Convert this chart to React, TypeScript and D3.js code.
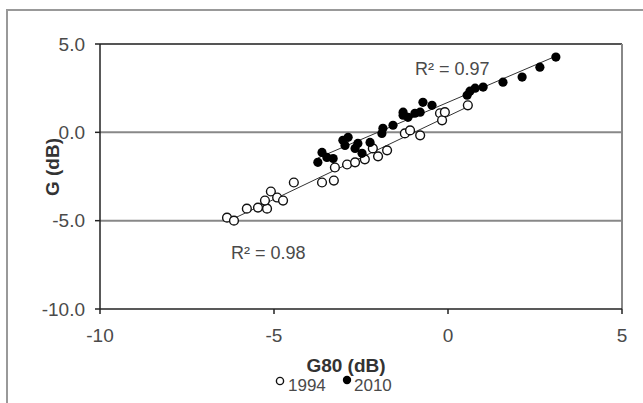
import React from "react";
import * as d3 from "d3";

const xTicks = [-10, -5, 0, 5];
const yTicks = [5, 0, -5, -10];
const yGrid = [0, -5];

const x1994 = [-6.35, -6.15, -5.78, -5.46, -5.2, -5.26, -5.09, -4.91, -4.74, -4.43, -3.62, -3.28, -3.25, -2.9, -2.67, -2.39, -2.16, -2.01, -1.75, -1.24, -1.09, -0.8, -0.23, -0.17, -0.09, 0.57];
const y1994 = [-4.83, -5.0, -4.32, -4.26, -4.32, -3.86, -3.35, -3.69, -3.86, -2.84, -2.84, -2.73, -1.99, -1.82, -1.7, -1.53, -0.91, -1.36, -1.02, -0.06, 0.11, -0.17, 1.08, 0.68, 1.14, 1.53];

const x2010 = [-3.74, -3.62, -3.48, -3.3, -3.02, -2.87, -2.96, -2.67, -2.59, -2.47, -2.24, -1.9, -1.87, -1.58, -1.29, -1.29, -1.15, -0.95, -0.8, -0.72, -0.46, 0.55, 0.63, 0.78, 1.01, 1.58, 2.13, 2.64, 3.1];
const y2010 = [-1.7, -1.14, -1.42, -1.48, -0.45, -0.28, -0.74, -0.91, -0.63, -1.19, -0.57, -0.06, 0.23, 0.4, 0.97, 1.14, 0.85, 1.08, 1.14, 1.7, 1.53, 2.1, 2.33, 2.5, 2.56, 2.84, 3.13, 3.69, 4.26];

const seriesNames = ["1994", "2010"];
const r2Labels = ["R² = 0.98", "R² = 0.97"];

function fit(xs: number[], ys: number[]) {
  const mx = d3.mean(xs)!;
  const my = d3.mean(ys)!;
  let sxy = 0, sxx = 0;
  xs.forEach((x, i) => { sxy += (x - mx) * (ys[i] - my); sxx += (x - mx) ** 2; });
  const b = sxy / sxx;
  const a = my - b * mx;
  const [lo, hi] = d3.extent(xs) as [number, number];
  return [[lo, a + b * lo], [hi, a + b * hi]];
}

export default function App() {
  const W = 643, H = 403;
  const L = 100, R = 622, T = 44, B = 309;
  const x = d3.scaleLinear().domain([-10, 5]).range([L, R]);
  const y = d3.scaleLinear().domain([-10, 5]).range([B, T]);
  const line = d3.line<number[]>().x(d => x(d[0])).y(d => y(d[1]));
  const f94 = fit(x1994, y1994);
  const f10 = fit(x2010, y2010);
  const font = "'Liberation Sans', Arial, sans-serif";
  const txt = "#4a4a4a";
  return (
    <svg width={W} height={H} style={{ position: "absolute", left: 0, top: 0, background: "#fff" }} fontFamily={font}>
      <rect x={0} y={0} width={W} height={H} fill="#fff" />
      <path d={`M7,${H} V10 H${W}`} fill="none" stroke="#999" strokeWidth={2} />
      {yGrid.map(v => (
        <line key={v} x1={L} x2={R} y1={y(v)} y2={y(v)} stroke="#888" strokeWidth={2} />
      ))}
      <line x1={L} x2={R} y1={T} y2={T} stroke="#555" strokeWidth={2} />
      <line x1={R} x2={R} y1={T} y2={B} stroke="#888" strokeWidth={2} />
      <line x1={L} x2={L} y1={T} y2={B} stroke="#222" strokeWidth={1.5} />
      <line x1={L} x2={R} y1={B} y2={B} stroke="#222" strokeWidth={1.5} />
      {yTicks.map(v => (
        <g key={v}>
          <line x1={L - 5} x2={L} y1={y(v)} y2={y(v)} stroke="#222" strokeWidth={1.5} />
          <text x={L - 15} y={y(v) + 6.5} textAnchor="end" fontSize={19} fill={txt}>{v.toFixed(1)}</text>
        </g>
      ))}
      {xTicks.map(v => (
        <g key={v}>
          <line x1={x(v)} x2={x(v)} y1={B} y2={B + 5} stroke="#222" strokeWidth={1.5} />
          <text x={x(v)} y={B + 33} textAnchor="middle" fontSize={19} fill={txt}>{v}</text>
        </g>
      ))}
      <text transform={`translate(59,167) rotate(-90)`} textAnchor="middle" fontSize={19} fontWeight="bold" fill="#333">G (dB)</text>
      <text x={346} y={372} textAnchor="middle" fontSize={19} fontWeight="bold" fill="#333">G80 (dB)</text>
      <path d={line(f94 as any) || ""} stroke="#333" strokeWidth={1} fill="none" />
      <path d={line(f10 as any) || ""} stroke="#333" strokeWidth={1} fill="none" />
      {x1994.map((v, i) => (
        <circle key={"a" + i} cx={x(v)} cy={y(y1994[i])} r={4.4} fill="#fff" stroke="#111" strokeWidth={1.4} />
      ))}
      {x2010.map((v, i) => (
        <circle key={"b" + i} cx={x(v)} cy={y(y2010[i])} r={4.6} fill="#000" />
      ))}
      <text x={231} y={259} fontSize={18} fill={txt}>{r2Labels[0]}</text>
      <text x={415} y={75} fontSize={18} fill={txt}>{r2Labels[1]}</text>
      <circle cx={280} cy={381} r={3.6} fill="#fff" stroke="#111" strokeWidth={1.4} />
      <text x={288} y={391} fontSize={17} fill={txt}>{seriesNames[0]}</text>
      <circle cx={347} cy={380} r={4.2} fill="#000" />
      <text x={354} y={391} fontSize={17} fill={txt}>{seriesNames[1]}</text>
    </svg>
  );
}
